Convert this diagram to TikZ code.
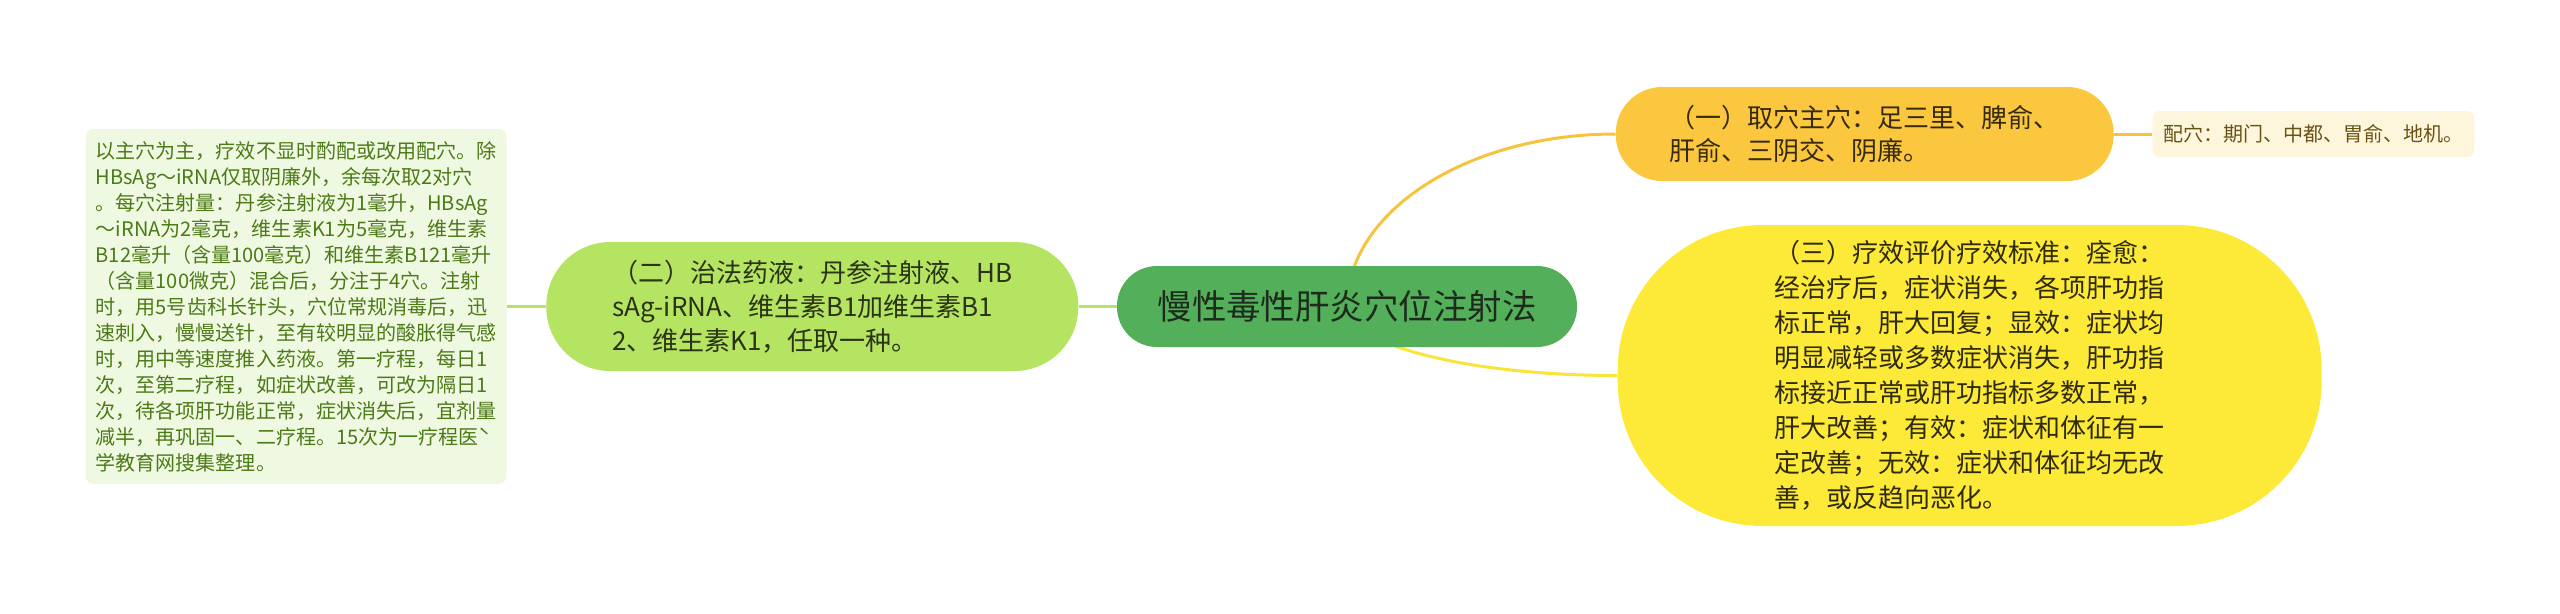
\documentclass[tikz,border=0pt]{standalone}
\usepackage{fontspec}
\setmainfont{Noto Sans CJK SC}
\usepackage{xcolor}
\usepackage{tikz}
\usetikzlibrary{calc}
\usetikzlibrary{backgrounds}

\definecolor{rootfill}{HTML}{53AF5A}
\definecolor{roottext}{HTML}{1D2B1D}
\definecolor{drugfill}{HTML}{B5E362}
\definecolor{drugtext}{HTML}{2A3314}
\definecolor{dosefill}{HTML}{EFF8E1}
\definecolor{dosetext}{HTML}{4C7A16}
\definecolor{mainfill}{HTML}{FAC73F}
\definecolor{maintext}{HTML}{362A0A}
\definecolor{extrafill}{HTML}{FEF6DC}
\definecolor{extratext}{HTML}{6A5214}
\definecolor{effectfill}{HTML}{FDEA38}
\definecolor{effecttext}{HTML}{2E2A0A}
\definecolor{greenline}{HTML}{B5E362}
\definecolor{orangeline}{HTML}{F6C33C}
\definecolor{yellowline}{HTML}{F8E43B}

\begin{document}
\begin{tikzpicture}[>=latex,
		box/.style={rectangle, inner sep=0pt, align=left},
		rootbox/.style={box, fill=rootfill, text=roottext, rounded corners=0.8cm, minimum width=9.2cm, minimum height=1.62cm, font=\fontsize{19.6pt}{24pt}\selectfont},
		drugbox/.style={box, fill=drugfill, text=drugtext, rounded corners=1.28cm, minimum width=10.64cm, minimum height=2.58cm, font=\fontsize{14.8pt}{19.3pt}\selectfont},
		dosebox/.style={box, fill=dosefill, text=dosetext, rounded corners=0.16cm, minimum width=8.42cm, minimum height=7.1cm, font=\fontsize{11.4pt}{14.8pt}\selectfont},
		mainbox/.style={box, fill=mainfill, text=maintext, rounded corners=0.93cm, minimum width=9.96cm, minimum height=1.88cm, font=\fontsize{14.8pt}{18.8pt}\selectfont},
		extrabox/.style={box, fill=extrafill, text=extratext, rounded corners=0.14cm, minimum width=6.44cm, minimum height=0.92cm, font=\fontsize{11.4pt}{14pt}\selectfont},
		effectbox/.style={box, fill=effectfill, text=effecttext, rounded corners=2.9cm, minimum width=14.08cm, minimum height=6.02cm, font=\fontsize{14.8pt}{19.9pt}\selectfont},
		link/.style={line width=0.06cm}]
		\useasboundingbox (0,0) rectangle (51.2,-12.26);

		% root
		\node at (canvas cs:x=26.94cm,y=-6.13cm) (root) [rootbox] {慢性毒性肝炎穴位注射法};

		% (二) and its note
		\node at ($(root.west) + (-0.76cm, 0cm)$) (drug) [anchor=east, drugbox] {（二）治法药液：丹参注射液、HB\\sAg-iRNA、维生素B1加维生素B1\\2、维生素K1，任取一种。};
		\node at ($(drug.west) + (-0.78cm, 0cm)$) (dosage) [anchor=east, dosebox] {以主穴为主，疗效不显时酌配或改用配穴。除\\HBsAg～iRNA仅取阴廉外，余每次取2对穴\\。每穴注射量：丹参注射液为1毫升，HBsAg\\～iRNA为2毫克，维生素K1为5毫克，维生素\\B12毫升（含量100毫克）和维生素B121毫升\\（含量100微克）混合后，分注于4穴。注射\\时，用5号齿科长针头，穴位常规消毒后，迅\\速刺入，慢慢送针，至有较明显的酸胀得气感\\时，用中等速度推入药液。第一疗程，每日1\\次，至第二疗程，如症状改善，可改为隔日1\\次，待各项肝功能正常，症状消失后，宜剂量\\减半，再巩固一、二疗程。15次为一疗程医ˋ\\学教育网搜集整理。};

		% (一) and its note
		\node at ($(root.east) + (0.76cm, 3.45cm)$) (mainpts) [anchor=west, mainbox] {（一）取穴主穴：足三里、脾俞、\\肝俞、三阴交、阴廉。};
		\node at ($(mainpts.east) + (0.76cm, 0cm)$) (extrapts) [anchor=west, extrabox] {配穴：期门、中都、胃俞、地机。};

		% (三)
		\node at ($(root.east) + (0.8cm, -1.38cm)$) (effect) [anchor=west, effectbox] {（三）疗效评价疗效标准：痊愈：\\经治疗后，症状消失，各项肝功指\\标正常，肝大回复；显效：症状均\\明显减轻或多数症状消失，肝功指\\标接近正常或肝功指标多数正常，\\肝大改善；有效：症状和体征有一\\定改善；无效：症状和体征均无改\\善，或反趋向恶化。};

		% links
		\begin{pgfonlayer}{background}
			\draw [link, greenline] (root.center) -- (drug.east);
			\draw [link, greenline] (drug.west) -- (dosage.east);
			\draw [link, orangeline] (root.center) .. controls +(0,1.9) and +(-2.96,0) .. (mainpts.west);
			\draw [link, orangeline] (mainpts.east) -- (extrapts.west);
			\draw [link, yellowline] (root.center) .. controls +(0,-0.77) and +(-2.98,0) .. (effect.west);
		\end{pgfonlayer}

	\end{tikzpicture}
\end{document}
